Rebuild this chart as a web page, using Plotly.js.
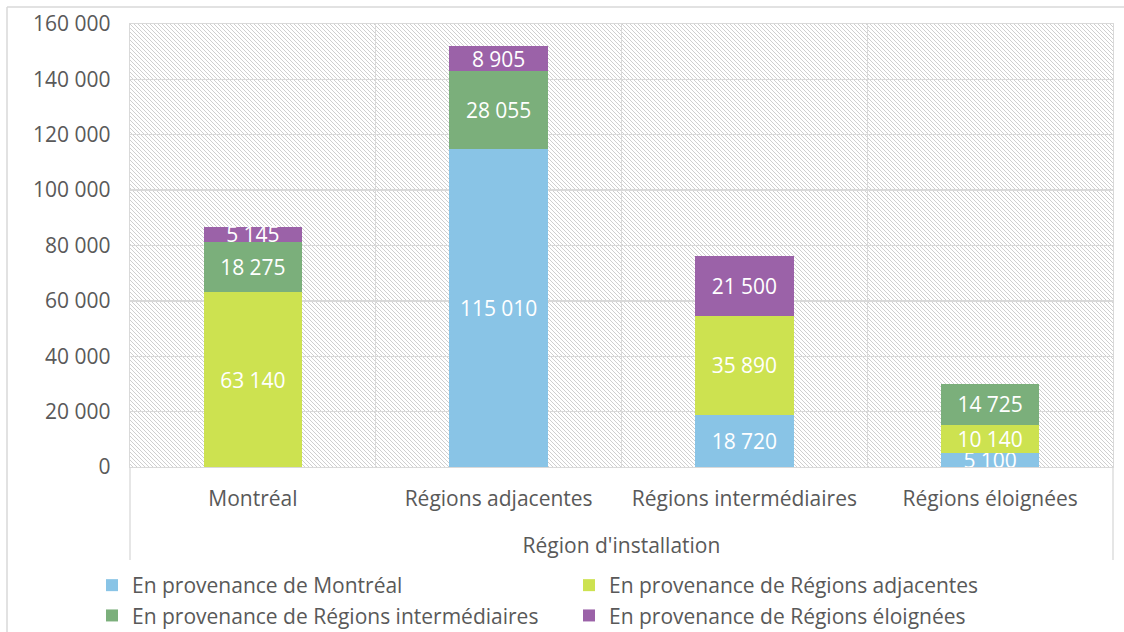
<!DOCTYPE html>
<html>
<head>
<meta charset="utf-8">
<script src="https://cdn.plot.ly/plotly-3.0.1.min.js"></script>
<style>
html,body{margin:0;padding:0;background:#fff;}
#chart{width:1124px;height:632px;}
</style>
</head>
<body>
<div id="chart"></div>
<script>
// ---- Data ----
var categories = ["Montréal", "Régions adjacentes", "Régions intermédiaires", "Régions éloignées"];
var seriesNames = ["En provenance de Montréal", "En provenance de Régions adjacentes", "En provenance de Régions intermédiaires", "En provenance de Régions éloignées"];
var fromMontreal       = [null, 115010, 18720, 5100];
var fromAdjacentes     = [63140, null, 35890, 10140];
var fromIntermediaires = [18275, 28055, null, 14725];
var fromEloignees      = [5145, 8905, 21500, null];
var yTickValues = [0, 20000, 40000, 60000, 80000, 100000, 120000, 140000, 160000];

var colors = ["#89C4E6", "#CDE250", "#7BAF7B", "#9B62A8"];
var seriesValues = [fromMontreal, fromAdjacentes, fromIntermediaires, fromEloignees];

// ---- Layout geometry ----
var W = 1124, H = 632;
var mL = 130, mR = 11, mT = 24, mB = 165;
var pw = W - mL - mR, ph = H - mT - mB;
function px(x){ return (x - mL) / pw; }
function py(y){ return (H - mB - y) / ph; }
var FS = 21;

// hatch background as svg image
var hatch = '<svg xmlns="http://www.w3.org/2000/svg" width="' + pw + '" height="' + ph + '">' +
  '<defs><pattern id="p" width="4" height="4" patternUnits="userSpaceOnUse">' +
  '<path d="M-1,-1 L5,5 M-1,3 L1,5 M3,-1 L5,1" stroke="#cfcfcf" stroke-width="1"/></pattern></defs>' +
  '<rect width="100%" height="100%" fill="url(#p)"/></svg>';
var hatchURI = 'data:image/svg+xml;base64,' + btoa(hatch);

var traces = seriesValues.map(function(vals, i){
  return {
    type: 'bar',
    name: seriesNames[i],
    x: categories,
    y: vals,
    marker: {color: colors[i], line: {width: 0}},
    texttemplate: '%{y:,}',
    textposition: 'inside',
    insidetextanchor: 'middle',
    textangle: 0,
    constraintext: 'none',
    textfont: {color: '#ffffff', size: FS, family: 'Open Sans'},
    hoverinfo: 'name+y'
  };
});

var gridC = '#d9d9d9';
var layout = {
  width: W, height: H,
  barmode: 'stack',
  bargap: 0.6,
  separators: ', ',
  paper_bgcolor: '#ffffff',
  plot_bgcolor: '#ffffff',
  font: {family: 'Open Sans', size: FS, color: '#595959'},
  margin: {l: mL, r: mR, t: mT, b: mB, pad: 0},
  showlegend: true,
  xaxis: {
    type: 'category',
    tickson: 'boundaries',
    showgrid: true, gridcolor: gridC, gridwidth: 1.3,
    showline: true, linecolor: gridC, linewidth: 1.3, mirror: true,
    ticks: '', ticklabelstandoff: 12,
    tickfont: {size: FS, color: '#595959'},
    title: {text: "Région d'installation", font: {size: FS, color: '#595959'}, standoff: 27},
    automargin: false
  },
  yaxis: {
    range: [0, 160000],
    tickvals: yTickValues,
    tickformat: ',d',
    showgrid: true, gridcolor: gridC, gridwidth: 1.3,
    showline: true, linecolor: gridC, linewidth: 1.3, mirror: true,
    zeroline: false,
    ticks: '', ticklabelstandoff: 14,
    tickfont: {size: FS, color: '#595959'},
    automargin: false
  },
  legend: {
    orientation: 'h',
    xref: 'container', x: 92 / W, xanchor: 'left',
    yref: 'container', y: 1 - 565 / H, yanchor: 'top',
    entrywidth: 432, entrywidthmode: 'pixels',
    font: {size: FS, color: '#595959'},
    traceorder: 'normal',
    bgcolor: 'rgba(0,0,0,0)'
  },
  images: [{
    source: hatchURI, xref: 'paper', yref: 'paper',
    x: 0, y: 1, sizex: 1, sizey: 1, sizing: 'stretch',
    xanchor: 'left', yanchor: 'top', layer: 'below'
  }],
  shapes: [
    {type: 'line', xref: 'paper', yref: 'paper', x0: 0, x1: 0, y0: 0, y1: py(560), line: {color: gridC, width: 1.3}},
    {type: 'line', xref: 'paper', yref: 'paper', x0: 1, x1: 1, y0: 0, y1: py(560), line: {color: gridC, width: 1.3}},
    {type: 'line', xref: 'paper', yref: 'paper', x0: px(7), x1: px(1130), y0: py(7), y1: py(7), line: {color: gridC, width: 1.5}},
    {type: 'line', xref: 'paper', yref: 'paper', x0: px(7), x1: px(7), y0: py(7), y1: py(640), line: {color: gridC, width: 1.5}}
  ]
};

Plotly.newPlot('chart', traces, layout, {displayModeBar: false, staticPlot: true});
</script>
</body>
</html>
